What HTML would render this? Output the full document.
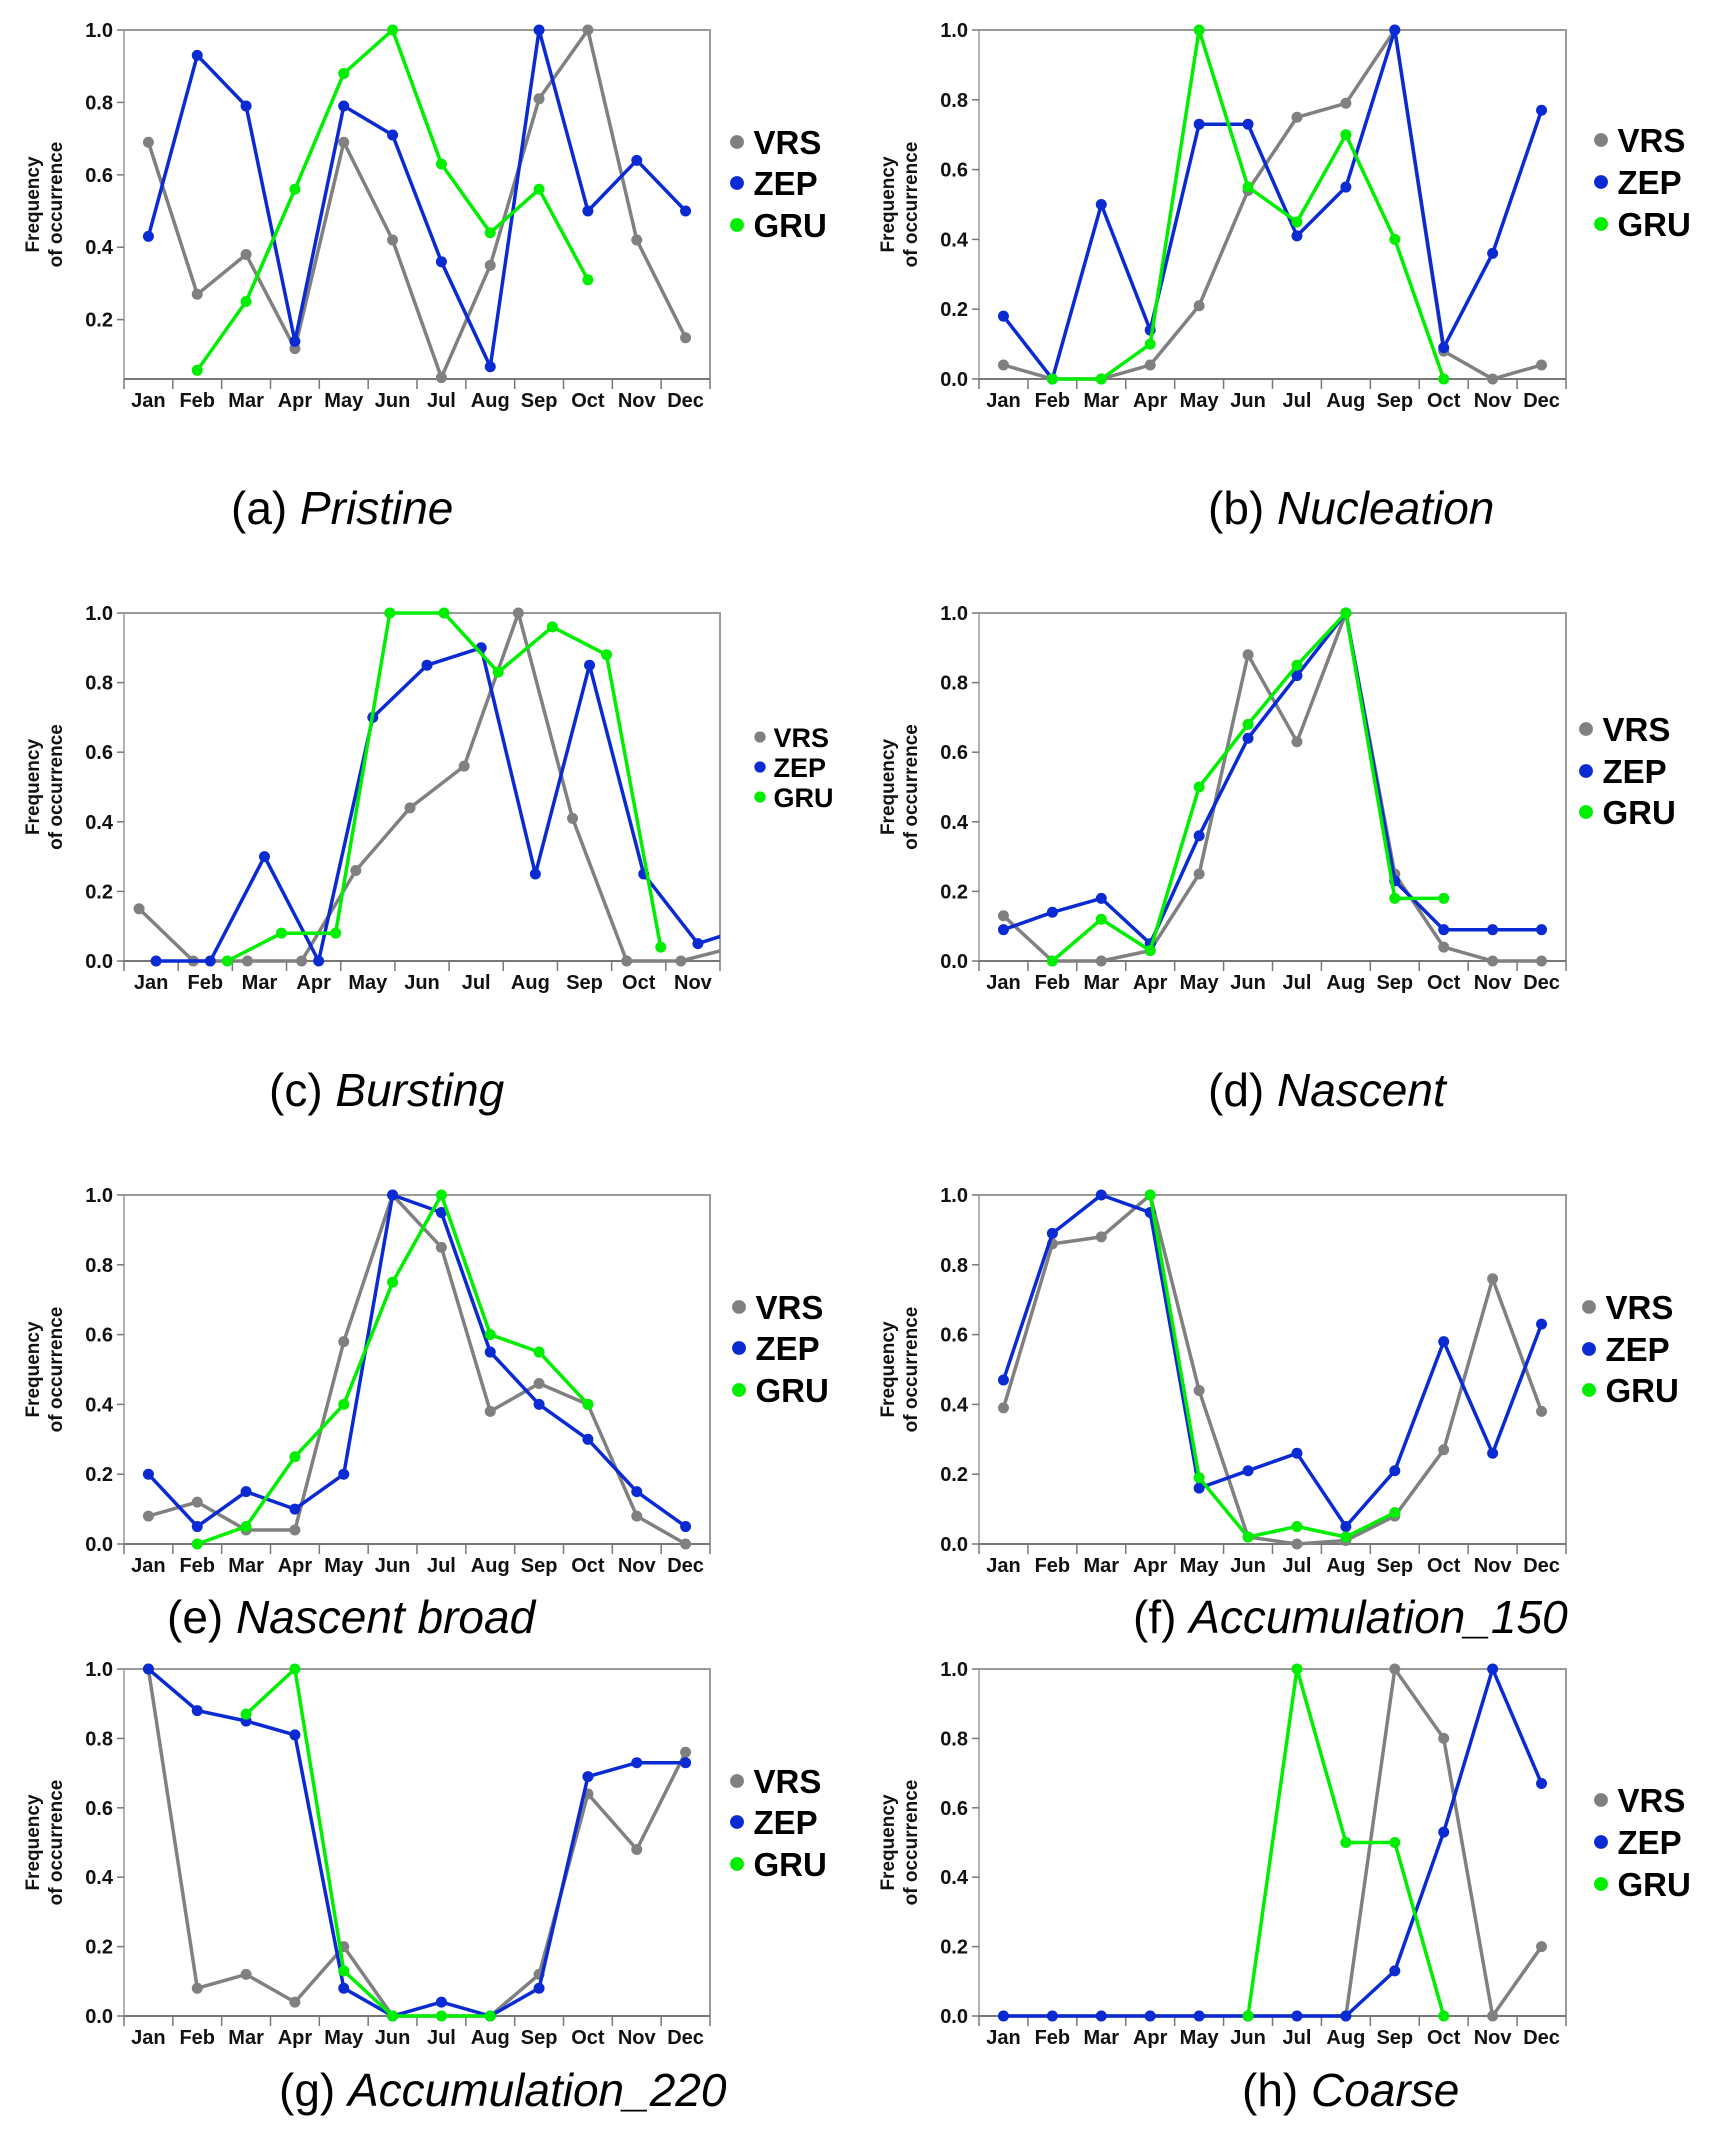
<!DOCTYPE html>
<html><head><meta charset="utf-8"><style>
html,body{margin:0;padding:0;background:#fff;}
svg{display:block;}
text{font-family:"Liberation Sans Narrow","Liberation Sans",sans-serif;}
</style></head><body>
<svg id="chart" width="1716" height="2142" viewBox="0 0 1716 2142" xmlns="http://www.w3.org/2000/svg"></svg>
<script>
const months = ["Jan","Feb","Mar","Apr","May","Jun","Jul","Aug","Sep","Oct","Nov","Dec"];
const seriesNames = ["VRS","ZEP","GRU"];
const yTicksFull = [0.0,0.2,0.4,0.6,0.8,1.0];
const yTicksA = [0.2,0.4,0.6,0.8,1.0];
const N = null;
// (a) Pristine
const aVRS = [.69,.27,.38,.12,.69,.42,.04,.35,.81,1.0,.42,.15];
const aZEP = [.43,.93,.79,.14,.79,.71,.36,.07,1.0,.50,.64,.50];
const aGRU = [N,.06,.25,.56,.88,1.0,.63,.44,.56,.31,N,N];
// (b) Nucleation
const bVRS = [.04,0,0,.04,.21,.54,.75,.79,1.0,.08,0,.04];
const bZEP = [.18,0,.50,.14,.73,.73,.41,.55,1.0,.09,.36,.77];
const bGRU = [N,0,0,.10,1.0,.55,.45,.70,.40,0,N,N];
// (c) Bursting
const cVRS = [.15,0,0,0,.26,.44,.56,1.0,.41,0,0,.04];
const cZEP = [0,0,.30,0,.70,.85,.90,.25,.85,.25,.05,.10];
const cGRU = [N,0,.08,.08,1.0,1.0,.83,.96,.88,.04,N,N];
// (d) Nascent
const dVRS = [.13,0,0,.03,.25,.88,.63,1.0,.25,.04,0,0];
const dZEP = [.09,.14,.18,.05,.36,.64,.82,1.0,.23,.09,.09,.09];
const dGRU = [N,0,.12,.03,.50,.68,.85,1.0,.18,.18,N,N];
// (e) Nascent broad
const eVRS = [.08,.12,.04,.04,.58,1.0,.85,.38,.46,.40,.08,0];
const eZEP = [.20,.05,.15,.10,.20,1.0,.95,.55,.40,.30,.15,.05];
const eGRU = [N,0,.05,.25,.40,.75,1.0,.60,.55,.40,N,N];
// (f) Accumulation_150
const fVRS = [.39,.86,.88,1.0,.44,.02,0,.01,.08,.27,.76,.38];
const fZEP = [.47,.89,1.0,.95,.16,.21,.26,.05,.21,.58,.26,.63];
const fGRU = [N,N,N,1.0,.19,.02,.05,.02,.09,N,N,N];
// (g) Accumulation_220
const gVRS = [1.0,.08,.12,.04,.20,0,0,0,.12,.64,.48,.76];
const gZEP = [1.0,.88,.85,.81,.08,0,.04,0,.08,.69,.73,.73];
const gGRU = [N,N,.87,1.0,.13,0,0,0,N,N,N,N];
// (h) Coarse
const hVRS = [0,0,0,0,0,0,0,0,1.0,.80,0,.20];
const hZEP = [0,0,0,0,0,0,0,0,.13,.53,1.0,.67];
const hGRU = [N,N,N,N,N,0,1.0,.50,.50,0,N,N];

const colors = ["#808080","#0a2ad2","#00ee00"];
const svg = document.getElementById('chart');
const NS = "http://www.w3.org/2000/svg";
function mk(tag, attrs, parent){const e=document.createElementNS(NS,tag);for(const k in attrs)e.setAttribute(k,attrs[k]);(parent||svg).appendChild(e);return e;}

const panels = [
 {id:"a",letter:"(a)",name:"Pristine",x0:124,x1:710,y1:30,y0:379,ymin:0.036,ticks:yTicksA,nb:12,data:[aVRS,aZEP,aGRU],capX:231,capY:524,legX:737,legY:[142,183,225],legF:33,offs:[0,0,0]},
 {id:"b",letter:"(b)",name:"Nucleation",x0:979,x1:1566,y1:30,y0:379,ymin:0,ticks:yTicksFull,nb:12,data:[bVRS,bZEP,bGRU],capX:1208,capY:524,legX:1601,legY:[140,182,224],legF:33,offs:[0,0,0]},
 {id:"c",letter:"(c)",name:"Bursting",x0:124,x1:720,y1:613,y0:961,ymin:0,ticks:yTicksFull,nb:11,data:[cVRS,cZEP,cGRU],capX:269,capY:1106,legX:760,legY:[737,767,797],legF:27,offs:[-12,5,22]},
 {id:"d",letter:"(d)",name:"Nascent",x0:979,x1:1566,y1:613,y0:961,ymin:0,ticks:yTicksFull,nb:12,data:[dVRS,dZEP,dGRU],capX:1208,capY:1106,legX:1586,legY:[729,771,812],legF:33,offs:[0,0,0]},
 {id:"e",letter:"(e)",name:"Nascent broad",x0:124,x1:710,y1:1195,y0:1544,ymin:0,ticks:yTicksFull,nb:12,data:[eVRS,eZEP,eGRU],capX:167,capY:1633,legX:739,legY:[1307,1348,1390],legF:33,offs:[0,0,0]},
 {id:"f",letter:"(f)",name:"Accumulation_150",x0:979,x1:1566,y1:1195,y0:1544,ymin:0,ticks:yTicksFull,nb:12,data:[fVRS,fZEP,fGRU],capX:1133,capY:1633,legX:1589,legY:[1307,1349,1390],legF:33,offs:[0,0,0]},
 {id:"g",letter:"(g)",name:"Accumulation_220",x0:124,x1:710,y1:1669,y0:2016,ymin:0,ticks:yTicksFull,nb:12,data:[gVRS,gZEP,gGRU],capX:279,capY:2106,legX:737,legY:[1781,1822,1864],legF:33,offs:[0,0,0]},
 {id:"h",letter:"(h)",name:"Coarse",x0:979,x1:1566,y1:1669,y0:2016,ymin:0,ticks:yTicksFull,nb:12,data:[hVRS,hZEP,hGRU],capX:1242,capY:2106,legX:1601,legY:[1800,1842,1884],legF:33,offs:[0,0,0]}
];

panels.forEach(p=>{
  const g = mk('g',{});
  
  
  const bw = (p.x1-p.x0)/p.nb;
  const xS = i => p.x0 + bw*(i+0.5);
  const yS = v => p.y0 - (v-p.ymin)/(1-p.ymin)*(p.y0-p.y1);
  const fr = mk('path',{d:`M${p.x0},${p.y1}H${p.x1}V${p.y0}`,fill:'none',stroke:'#9a9a9a','stroke-width':2},g);
  
  
  const ya = mk('line',{x1:p.x0,y1:p.y1,x2:p.x0,y2:p.y0,stroke:'#9a9a9a','stroke-width':1.5},g);
  
  
  const xa = mk('line',{x1:p.x0,y1:p.y0,x2:p.x1,y2:p.y0,stroke:'#777','stroke-width':2},g);
  
  
  for(let i=0;i<=p.nb;i++){
    const t=mk('line',{x1:p.x0+bw*i,y1:p.y0,x2:p.x0+bw*i,y2:p.y0+10,stroke:'#777','stroke-width':1.5},g);
    
    
  }
  for(let i=0;i<p.nb;i++){
    const t=mk('text',{x:xS(i),y:p.y0+28,'text-anchor':'middle','font-size':20,'font-weight':'bold',fill:'#111'},g);
    t.textContent=months[i];
    
    
  }
  p.ticks.forEach(v=>{
    const y=yS(v);
    const tl=mk('line',{x1:p.x0-7,y1:y,x2:p.x0,y2:y,stroke:'#777','stroke-width':1.5},g);
    
    
    const t=mk('text',{x:p.x0-11,y:y+7,'text-anchor':'end','font-size':20,'font-weight':'bold',fill:'#111'},g);
    t.textContent=v.toFixed(1);
    
    
  });
  const ym=(p.y0+p.y1)/2, tx=p.x0-85;
  const yt=mk('text',{transform:`translate(${tx},${ym}) rotate(-90)`,'text-anchor':'middle','font-size':19,'font-weight':'bold',fill:'#111','font-family':'Liberation Sans, sans-serif'},g);
  
  
  const s1=mk('tspan',{x:0,dy:0},yt); s1.textContent='Frequency';
  const s2=mk('tspan',{x:0,dy:23},yt); s2.textContent='of occurrence';
  const cp=mk('clipPath',{id:'clip-'+p.id},g);
  mk('rect',{x:p.x0-10,y:p.y1-12,width:p.x1-p.x0+10,height:p.y0-p.y1+24},cp);
  const sg=mk('g',{'clip-path':`url(#clip-${p.id})`},g);
  p.data.forEach((arr,si)=>{
    const off=p.offs[si];
    let d='';let prev=false;
    arr.forEach((v,i)=>{
      if(v===null){prev=false;return;}
      d+=(prev?'L':'M')+(xS(i)+off).toFixed(1)+','+yS(v).toFixed(1);prev=true;
    });
    const ln=mk('path',{d:d,fill:'none',stroke:colors[si],'stroke-width':3.5,'stroke-linejoin':'round'},sg);
    
    
    arr.forEach((v,i)=>{
      if(v===null)return;
      if(i>=p.nb)return;
      const c=mk('circle',{cx:xS(i)+off,cy:yS(v),r:5.5,fill:colors[si]},sg);
      
      
    });
  });
  seriesNames.forEach((n,si)=>{
    const ly=p.legY[si];
    const le=mk('g',{},g);
    
    
    mk('circle',{cx:p.legX,cy:ly,r:p.legF*0.21,fill:colors[si]},le);
    const t=mk('text',{x:p.legX+p.legF*0.5,y:ly+p.legF*0.37,'font-size':p.legF,'font-weight':'bold',fill:'#000','font-family':'Liberation Sans, sans-serif'},le);
    t.textContent=n;
  });
  const cap=mk('text',{x:p.capX,y:p.capY,'font-size':46,fill:'#000','font-family':'Liberation Sans, sans-serif'},g);
  
  
  const c1=mk('tspan',{},cap); c1.textContent=p.letter+' ';
  const c2=mk('tspan',{'font-style':'italic'},cap); c2.textContent=p.name;
});
</script>
</body></html>
